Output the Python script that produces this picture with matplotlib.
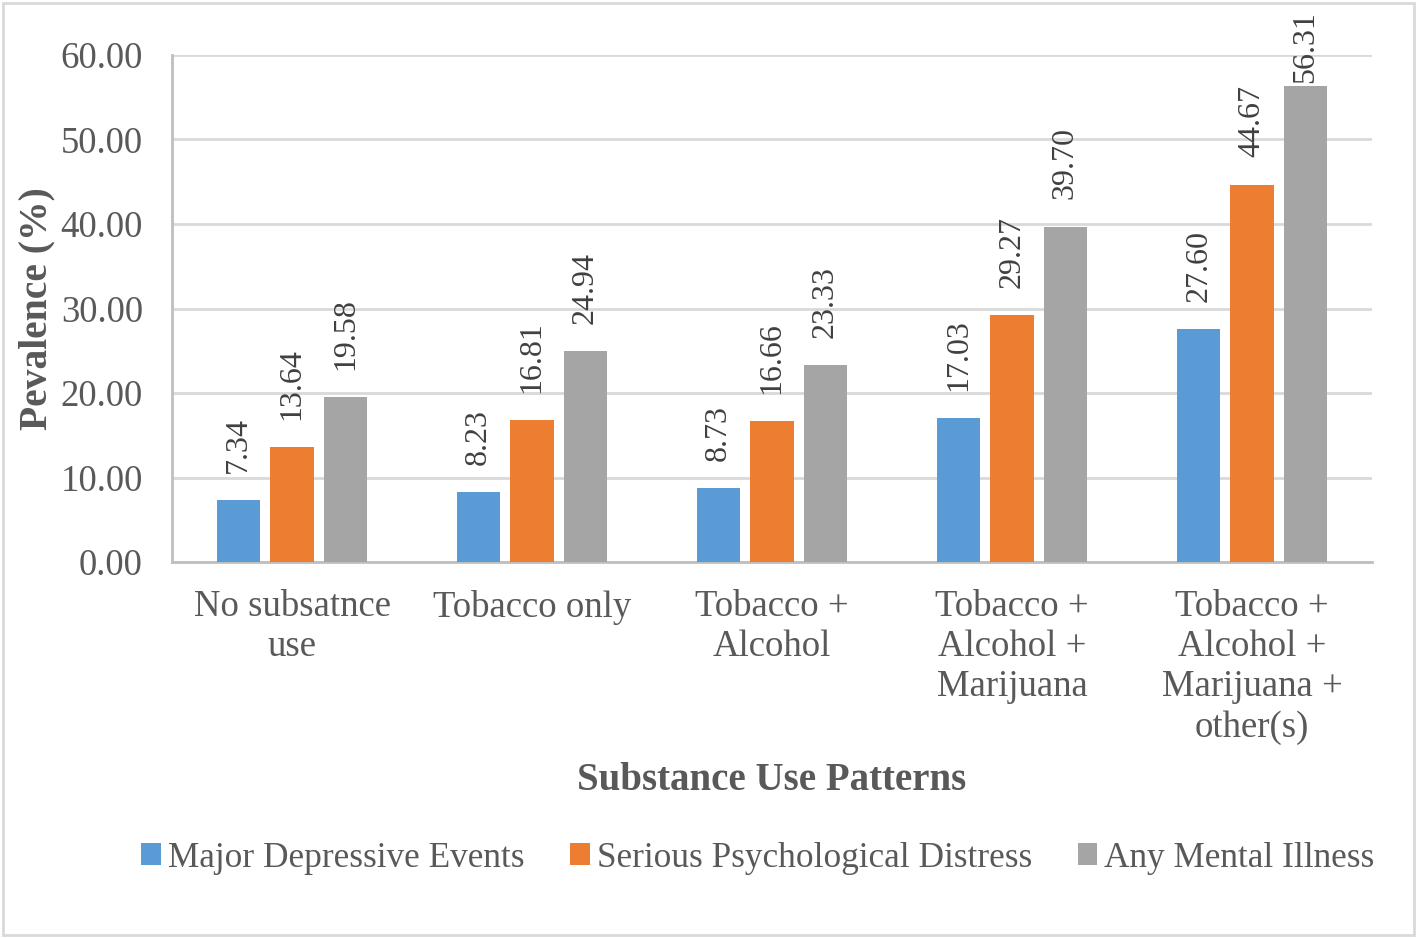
import matplotlib.pyplot as plt
import numpy as np
from matplotlib.patches import Rectangle

categories = ['No subsatnce\nuse', 'Tobacco only', 'Tobacco +\nAlcohol',
              'Tobacco +\nAlcohol +\nMarijuana', 'Tobacco +\nAlcohol +\nMarijuana +\nother(s)']
series_names = ['Major Depressive Events', 'Serious Psychological Distress', 'Any Mental Illness']
major_depressive = [7.34, 8.23, 8.73, 17.03, 27.60]
psych_distress = [13.64, 16.81, 16.66, 29.27, 44.67]
any_mental = [19.58, 24.94, 23.33, 39.70, 56.31]
yticks = [0, 10, 20, 30, 40, 50, 60]

colors = ['#5B9BD5', '#ED7D31', '#A5A5A5']
text_col = '#595959'

plt.rcParams['font.family'] = ['Liberation Serif', 'DejaVu Serif']

fig = plt.figure(figsize=(14.17, 9.38), dpi=100)
ax = fig.add_axes([172 / 1417, 1 - 562 / 938, 1200 / 1417, 507 / 938])

x = np.arange(len(categories))
width = 0.18
offsets = [-0.222, 0.0, 0.222]
for vals, off, col, name in zip([major_depressive, psych_distress, any_mental], offsets, colors, series_names):
    bars = ax.bar(x + off, vals, width, color=col, label=name, zorder=3)
    for b, v in zip(bars, vals):
        # labels sit just above the bar, pushed down near the top like Excel does
        ax.text(b.get_x() + b.get_width() / 2, min(v + 3.2, 56.7), f'{v:.2f}', rotation=90,
                ha='center', va='bottom', fontsize=23, color='#404040', clip_on=False)

ax.set_xlim(-0.5, 4.5)
ax.set_ylim(0, 60)
ax.set_yticks(yticks)
ax.set_yticklabels([f'{t:.2f}' for t in yticks], fontsize=26.5, color=text_col)
ax.set_xticks(x)
ax.set_xticklabels(categories, fontsize=26.5, color=text_col, linespacing=1.21)
ax.tick_params(axis='y', length=0, pad=21)
ax.tick_params(axis='x', length=0, pad=20)
ax.grid(axis='y', color='#D9D9D9', linewidth=2, zorder=0)
for s in ['top', 'right']:
    ax.spines[s].set_visible(False)
ax.spines['left'].set_color('#BFBFBF')
ax.spines['left'].set_linewidth(2)
ax.spines['bottom'].set_color('#BFBFBF')
ax.spines['bottom'].set_linewidth(2)

ax.set_ylabel('Pevalence (%)', fontsize=28.5, fontweight='bold', color=text_col)
ax.yaxis.set_label_coords(-0.097, 0.5)
fig.text(772 / 1417, 1 - 781 / 938, 'Substance Use Patterns', fontsize=28, fontweight='bold',
         color=text_col, ha='center', va='center')

fig.legend(loc='center', bbox_to_anchor=(758 / 1417, 1 - 858 / 938), ncol=3, frameon=False,
           fontsize=25.4, labelcolor=text_col, handlelength=0.55, handleheight=0.55,
           handletextpad=0.2, columnspacing=1.3)

fig.patches.append(Rectangle((3 / 1417, 3 / 938), 1411 / 1417, 932 / 938, transform=fig.transFigure,
                             fill=False, edgecolor='#D9D9D9', linewidth=2))

fig.savefig('out.png', dpi=100)
